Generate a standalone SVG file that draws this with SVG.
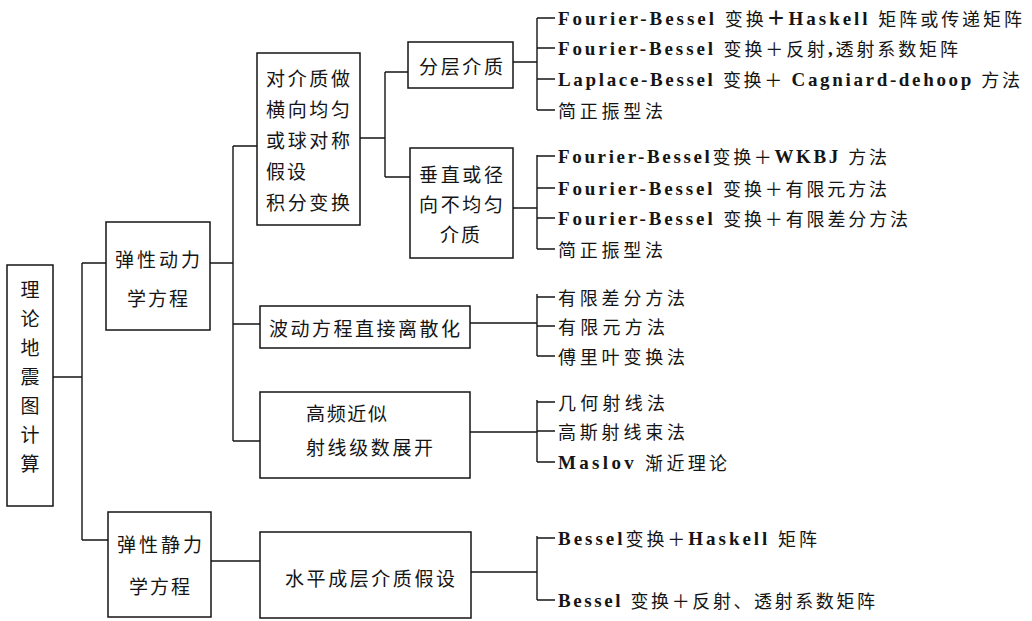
<svg xmlns="http://www.w3.org/2000/svg" width="1032" height="621" viewBox="0 0 1032 621">
<style>
.box{fill:none;stroke:#151515;stroke-width:1.5}
.c{fill:none;stroke:#151515;stroke-width:1.4}
.t{font-family:"Noto Sans CJK SC","Noto Sans",sans-serif;font-size:19px;fill:#151515;dominant-baseline:central}
.m{text-anchor:middle}
.r{font-family:"Liberation Serif","Noto Sans CJK SC",serif;font-size:19px;fill:#151515;dominant-baseline:central}
.b{font-weight:bold}
.h{font-family:"Noto Sans CJK SC",sans-serif;font-weight:normal;font-size:18px}
</style>
<rect width="1032" height="621" fill="#ffffff"/>
<g id="connectors">
<path class="c" d="M53 377H82M82 263V540M82 263H106M82 540H108"/>
<path class="c" d="M210 263H233M233 146V441M233 146H257M233 324H260M233 441H260"/>
<path class="c" d="M360 138H385M385 72V177M385 72H408M385 177H410"/>
<path class="c" d="M513 62H537M537 18V110M537 18H555M537 48H555M537 79H555M537 110H555"/>
<path class="c" d="M513 208H537M537 155V249M537 156H555M537 188H555M537 218H555M537 249H555"/>
<path class="c" d="M470 323H537M537 294V356M537 297H555M537 326H555M537 356H555"/>
<path class="c" d="M470 432H537M537 400V462M537 402H555M537 431H555M537 462H555"/>
<path class="c" d="M211 561H260M471 572H537M537 536V600M537 538H555M537 600H555"/>
</g>
<g id="n-root">
<rect class="box" x="7" y="265" width="46" height="241"/>
<text class="t m" x="30" y="288">理</text>
<text class="t m" x="30" y="317">论</text>
<text class="t m" x="30" y="346">地</text>
<text class="t m" x="30" y="375">震</text>
<text class="t m" x="30" y="404">图</text>
<text class="t m" x="30" y="433">计</text>
<text class="t m" x="30" y="462">算</text>
</g>
<g id="n-dyn">
<rect class="box" x="106" y="222" width="104" height="108"/>
<text class="t" x="115" y="258" textLength="85" lengthAdjust="spacing">弹性动力</text>
<text class="t" x="127" y="297" textLength="61" lengthAdjust="spacing">学方程</text>
</g>
<g id="n-stat">
<rect class="box" x="108" y="512" width="103" height="105"/>
<text class="t" x="117" y="543" textLength="85" lengthAdjust="spacing">弹性静力</text>
<text class="t" x="129" y="585" textLength="61" lengthAdjust="spacing">学方程</text>
</g>
<g id="n-assume">
<rect class="box" x="257" y="53" width="103" height="172"/>
<text class="t" x="266" y="77" textLength="84" lengthAdjust="spacing">对介质做</text>
<text class="t" x="266" y="108" textLength="84" lengthAdjust="spacing">横向均匀</text>
<text class="t" x="266" y="139" textLength="84" lengthAdjust="spacing">或球对称</text>
<text class="t" x="266" y="170" textLength="40" lengthAdjust="spacing">假设</text>
<text class="t" x="266" y="201" textLength="84" lengthAdjust="spacing">积分变换</text>
</g>
<g id="n-layer">
<rect class="box" x="408" y="42" width="105" height="46"/>
<text class="t" x="419" y="65" textLength="84" lengthAdjust="spacing">分层介质</text>
</g>
<g id="n-vert">
<rect class="box" x="410" y="148" width="103" height="110"/>
<text class="t" x="419" y="173" textLength="84" lengthAdjust="spacing">垂直或径</text>
<text class="t" x="419" y="203" textLength="84" lengthAdjust="spacing">向不均匀</text>
<text class="t" x="440" y="233" textLength="40" lengthAdjust="spacing">介质</text>
</g>
<g id="n-disc">
<rect class="box" x="260" y="306" width="210" height="42"/>
<text class="t" x="269" y="327" textLength="191" lengthAdjust="spacing">波动方程直接离散化</text>
</g>
<g id="n-ray">
<rect class="box" x="260" y="392" width="210" height="86"/>
<text class="t" x="306" y="412" textLength="81" lengthAdjust="spacing">高频近似</text>
<text class="t" x="306" y="446" textLength="127" lengthAdjust="spacing">射线级数展开</text>
</g>
<g id="n-horiz">
<rect class="box" x="260" y="532" width="211" height="86"/>
<text class="t" x="285" y="577" textLength="170" lengthAdjust="spacing">水平成层介质假设</text>
</g>
<g id="leaves">
<text class="r" x="558" y="18" textLength="464" lengthAdjust="spacing"><tspan class="b">Fourier-Bessel </tspan><tspan class="h">变换</tspan><tspan class="b">＋Haskell </tspan><tspan class="h">矩阵或传递矩阵</tspan></text>
<text class="r" x="558" y="48" textLength="400" lengthAdjust="spacing"><tspan class="b">Fourier-Bessel </tspan><tspan class="h">变换＋反射</tspan><tspan class="b">,</tspan><tspan class="h">透射系数矩阵</tspan></text>
<text class="r" x="558" y="79" textLength="462" lengthAdjust="spacing"><tspan class="b">Laplace-Bessel </tspan><tspan class="h">变换＋ </tspan><tspan class="b">Cagniard-dehoop </tspan><tspan class="h">方法</tspan></text>
<text class="r h" x="558" y="110" textLength="105" lengthAdjust="spacing">简正振型法</text>
<text class="r" x="558" y="156" textLength="329" lengthAdjust="spacing"><tspan class="b">Fourier-Bessel</tspan><tspan class="h">变换＋</tspan><tspan class="b">WKBJ </tspan><tspan class="h">方法</tspan></text>
<text class="r" x="558" y="188" textLength="329" lengthAdjust="spacing"><tspan class="b">Fourier-Bessel </tspan><tspan class="h">变换＋有限元方法</tspan></text>
<text class="r" x="558" y="218" textLength="350" lengthAdjust="spacing"><tspan class="b">Fourier-Bessel </tspan><tspan class="h">变换＋有限差分方法</tspan></text>
<text class="r h" x="558" y="249" textLength="105" lengthAdjust="spacing">简正振型法</text>
<text class="r h" x="558" y="297" textLength="127" lengthAdjust="spacing">有限差分方法</text>
<text class="r h" x="558" y="326" textLength="107" lengthAdjust="spacing">有限元方法</text>
<text class="r h" x="558" y="356" textLength="127" lengthAdjust="spacing">傅里叶变换法</text>
<text class="r h" x="558" y="402" textLength="107" lengthAdjust="spacing">几何射线法</text>
<text class="r h" x="558" y="431" textLength="127" lengthAdjust="spacing">高斯射线束法</text>
<text class="r" x="558" y="462" textLength="169" lengthAdjust="spacing"><tspan class="b">Maslov </tspan><tspan class="h">渐近理论</tspan></text>
<text class="r" x="558" y="538" textLength="259" lengthAdjust="spacing"><tspan class="b">Bessel</tspan><tspan class="h">变换＋</tspan><tspan class="b">Haskell </tspan><tspan class="h">矩阵</tspan></text>
<text class="r" x="558" y="600" textLength="317" lengthAdjust="spacing"><tspan class="b">Bessel </tspan><tspan class="h">变换＋反射、透射系数矩阵</tspan></text>
</g>
</svg>
